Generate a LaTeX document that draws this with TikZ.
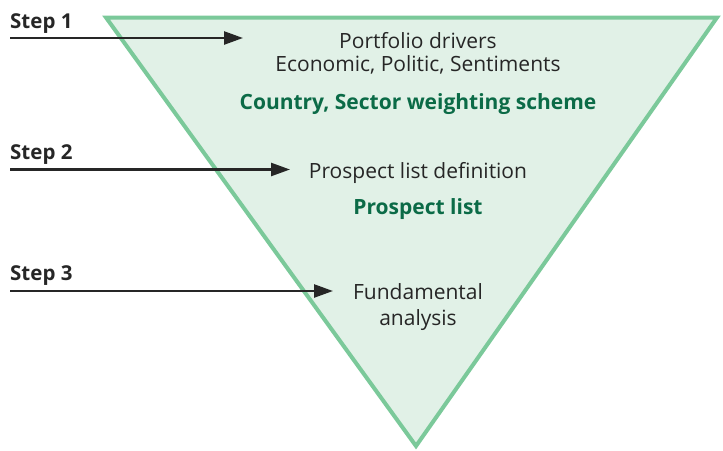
\documentclass[tikz,border=0pt]{standalone}
\usepackage{fontspec}
\setmainfont{Open Sans}
\usepackage{tikz}
\usetikzlibrary{positioning,arrows.meta}

\definecolor{funnelline}{HTML}{7BC99A}
\definecolor{funnelfill}{HTML}{E1F1E7}
\definecolor{resultgreen}{HTML}{0B6B47}
\definecolor{inkgray}{HTML}{262626}

\begin{document}
\begin{tikzpicture}[x=1pt,y=-1pt,node distance=24pt,on grid,
    funnel/.style={draw=funnelline,fill=funnelfill,line width=4pt,line join=miter},
    steplabel/.style={font=\fontsize{20.5}{24}\selectfont\bfseries,text=inkgray,anchor=base west,inner sep=0pt},
    info/.style={font=\fontsize{21}{26}\selectfont,text=inkgray,align=center,inner sep=0pt},
    result/.style={font=\fontsize{21}{26}\selectfont\bfseries,text=resultgreen,inner sep=0pt},
    steparrow/.style={-{Triangle[length=19pt,width=13pt]},line width=2.5pt,draw=inkgray}]
  \useasboundingbox (0,0) rectangle (723,450);
  % the funnel
  \draw[funnel] (106,17.5) -- (717,17.5) -- (416,446) -- cycle;
  % texts inside the funnel
  \node[info] (drivers) at (418,41) {Portfolio drivers};
  \node[info] (factors) [below=of drivers] {Economic, Politic, Sentiments};
  \node[result] (scheme) at (418,104) {Country, Sector weighting scheme};
  \node[info] (prospdef) at (418,172.5) {Prospect list definition};
  \node[result] (prosplist) [below=37pt of prospdef] {Prospect list};
  \node[info] (fundam) at (418,307) {Fundamental\\analysis};
  % steps
  \node[steplabel] (step1) at (10,28) {Step 1};
  \node[steplabel] (step2) at (10,159) {Step 2};
  \node[steplabel] (step3) at (10,280) {Step 3};
  \coordinate (s1from) at (10,38);  \coordinate (s1to) at (243,38);
  \coordinate (s2from) at (10,169.5); \coordinate (s2to) at (290,169.5);
  \coordinate (s3from) at (10,291); \coordinate (s3to) at (333,291);
  \draw[steparrow] (s1from) -- (s1to);
  \draw[steparrow] (s2from) -- (s2to);
  \draw[steparrow] (s3from) -- (s3to);
\end{tikzpicture}
\end{document}
